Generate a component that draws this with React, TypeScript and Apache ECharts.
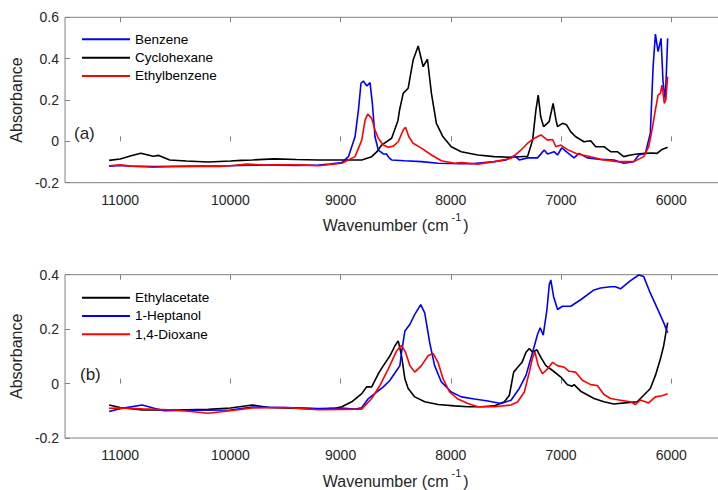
import React, { useEffect, useRef } from "react";
import * as echarts from "echarts";

// ---------- Data (wavenumber in cm^-1, absorbance) ----------
const xTicks = [6000, 7000, 8000, 9000, 10000, 11000];

// (a) Cyclohexane
const cyclohexaneX = [11100, 11000, 10900, 10813, 10700, 10650, 10550, 10400, 10200, 10000, 9900, 9800, 9700, 9600, 9400, 9200, 9000, 8808, 8718, 8670, 8628, 8537, 8480, 8465, 8432, 8387, 8342, 8296, 8251, 8212, 8176, 8131, 8071, 7996, 7906, 7755, 7607, 7454, 7303, 7258, 7228, 7207, 7185, 7158, 7108, 7072, 7045, 7032, 6987, 6950, 6912, 6867, 6792, 6731, 6686, 6611, 6551, 6490, 6431, 6370, 6310, 6235, 6175, 6129, 6084, 6033];
const cyclohexaneY = [-0.092, -0.085, -0.07, -0.058, -0.072, -0.068, -0.09, -0.095, -0.1, -0.095, -0.092, -0.09, -0.087, -0.085, -0.088, -0.09, -0.09, -0.09, -0.074, -0.05, -0.018, 0.015, 0.1, 0.152, 0.232, 0.257, 0.393, 0.461, 0.361, 0.397, 0.232, 0.087, 0.022, -0.026, -0.05, -0.066, -0.074, -0.077, -0.072, 0.006, 0.152, 0.224, 0.12, 0.071, 0.095, 0.184, 0.1, 0.071, 0.087, 0.08, 0.046, 0.022, -0.002, 0.003, -0.026, -0.026, -0.05, -0.05, -0.074, -0.066, -0.061, -0.058, -0.056, -0.058, -0.039, -0.029];

// (a) Benzene
const benzeneX = [11100, 11000, 10900, 10700, 10500, 10300, 10000, 9800, 9600, 9400, 9200, 9100, 8989, 8929, 8869, 8838, 8815, 8793, 8763, 8733, 8712, 8688, 8658, 8612, 8583, 8560, 8537, 8420, 8267, 8116, 7906, 7815, 7605, 7500, 7424, 7379, 7303, 7213, 7153, 7122, 7063, 7032, 6993, 6942, 6882, 6837, 6761, 6641, 6521, 6431, 6340, 6295, 6235, 6190, 6165, 6144, 6120, 6093, 6075, 6054, 6033];
const benzeneY = [-0.12, -0.117, -0.12, -0.122, -0.121, -0.12, -0.118, -0.115, -0.115, -0.116, -0.115, -0.11, -0.103, -0.074, 0.022, 0.152, 0.281, 0.292, 0.268, 0.284, 0.184, 0.022, -0.042, -0.061, -0.061, -0.08, -0.09, -0.094, -0.098, -0.106, -0.108, -0.108, -0.098, -0.09, -0.069, -0.09, -0.08, -0.08, -0.042, -0.061, -0.05, -0.066, -0.031, -0.055, -0.08, -0.058, -0.08, -0.087, -0.09, -0.106, -0.098, -0.066, -0.058, 0.04, 0.361, 0.519, 0.434, 0.498, 0.289, 0.2, 0.498];

// (a) Ethylbenzene
const ethylbenzeneX = [11100, 11000, 10900, 10700, 10500, 10300, 10100, 10000, 9850, 9700, 9500, 9300, 9200, 9100, 8989, 8869, 8808, 8778, 8754, 8718, 8688, 8658, 8612, 8567, 8522, 8477, 8432, 8411, 8381, 8342, 8267, 8176, 8086, 7966, 7906, 7755, 7605, 7454, 7364, 7303, 7243, 7183, 7122, 7077, 7047, 7002, 6942, 6852, 6761, 6641, 6490, 6340, 6250, 6205, 6175, 6144, 6120, 6099, 6085, 6063, 6050, 6033];
const ethylbenzeneY = [-0.118, -0.114, -0.12, -0.125, -0.122, -0.12, -0.122, -0.118, -0.11, -0.115, -0.113, -0.115, -0.118, -0.112, -0.106, -0.074, 0.006, 0.103, 0.132, 0.111, 0.055, 0.015, -0.018, -0.029, -0.023, -0.002, 0.055, 0.068, 0.022, -0.009, -0.033, -0.066, -0.094, -0.106, -0.103, -0.11, -0.098, -0.082, -0.042, -0.009, 0.015, 0.031, 0.006, 0.009, -0.026, -0.018, -0.04, -0.061, -0.071, -0.087, -0.098, -0.098, -0.074, -0.026, 0.055, 0.152, 0.224, 0.232, 0.272, 0.184, 0.2, 0.313];

// (b) Ethylacetate
const ethylacetateX = [11100, 11000, 10800, 10500, 10200, 10000, 9800, 9650, 9500, 9300, 9169, 9049, 8989, 8899, 8808, 8763, 8718, 8658, 8612, 8552, 8507, 8477, 8447, 8417, 8387, 8327, 8237, 8116, 7966, 7845, 7725, 7605, 7514, 7469, 7430, 7393, 7354, 7318, 7288, 7258, 7219, 7183, 7138, 7077, 7002, 6942, 6900, 6882, 6822, 6701, 6611, 6521, 6400, 6310, 6250, 6190, 6144, 6099, 6069, 6033];
const ethylacetateY = [-0.079, -0.088, -0.097, -0.097, -0.095, -0.09, -0.079, -0.088, -0.09, -0.092, -0.094, -0.091, -0.085, -0.067, -0.037, -0.012, -0.012, 0.036, 0.066, 0.102, 0.139, 0.157, 0.102, 0.018, -0.018, -0.049, -0.067, -0.077, -0.082, -0.085, -0.085, -0.082, -0.067, -0.043, 0.042, 0.06, 0.078, 0.115, 0.129, 0.115, 0.124, 0.096, 0.066, 0.048, 0.024, -0.004, -0.01, -0.004, -0.028, -0.055, -0.067, -0.075, -0.07, -0.067, -0.043, -0.018, 0.03, 0.09, 0.139, 0.224];

// (b) 1-Heptanol
const heptanolX = [11100, 11000, 10800, 10700, 10600, 10300, 10000, 9800, 9500, 9200, 9000, 8869, 8808, 8748, 8673, 8612, 8552, 8492, 8462, 8447, 8417, 8372, 8327, 8273, 8237, 8192, 8147, 8086, 7996, 7905, 7785, 7664, 7544, 7454, 7379, 7318, 7258, 7213, 7189, 7162, 7128, 7107, 7093, 7068, 7032, 6987, 6912, 6822, 6701, 6641, 6551, 6506, 6461, 6370, 6295, 6250, 6190, 6129, 6069, 6033];
const heptanolY = [-0.103, -0.092, -0.079, -0.09, -0.1, -0.098, -0.097, -0.086, -0.088, -0.092, -0.09, -0.094, -0.089, -0.055, -0.031, -0.012, 0.012, 0.048, 0.066, 0.115, 0.193, 0.217, 0.254, 0.29, 0.26, 0.151, 0.066, 0.006, -0.031, -0.049, -0.057, -0.064, -0.073, -0.061, -0.018, 0.03, 0.115, 0.181, 0.205, 0.178, 0.272, 0.363, 0.381, 0.32, 0.272, 0.284, 0.284, 0.308, 0.344, 0.351, 0.356, 0.356, 0.348, 0.378, 0.399, 0.393, 0.332, 0.278, 0.224, 0.187];

// (b) 1,4-Dioxane
const dioxaneX = [11100, 11000, 10800, 10500, 10200, 10000, 9800, 9500, 9200, 9000, 8808, 8718, 8643, 8567, 8492, 8447, 8411, 8372, 8327, 8267, 8206, 8161, 8116, 8071, 8011, 7935, 7845, 7755, 7605, 7454, 7393, 7333, 7288, 7258, 7237, 7207, 7168, 7122, 7077, 7032, 6972, 6927, 6867, 6807, 6731, 6671, 6611, 6551, 6461, 6370, 6325, 6280, 6205, 6144, 6084, 6033];
const dioxaneY = [-0.091, -0.09, -0.093, -0.097, -0.109, -0.1, -0.09, -0.088, -0.096, -0.095, -0.094, -0.055, -0.007, 0.054, 0.12, 0.141, 0.115, 0.066, 0.042, 0.066, 0.102, 0.111, 0.078, 0.018, -0.031, -0.057, -0.073, -0.085, -0.085, -0.079, -0.067, -0.031, 0.042, 0.096, 0.115, 0.066, 0.036, 0.054, 0.078, 0.066, 0.06, 0.045, 0.042, 0.012, -0.004, -0.007, -0.04, -0.055, -0.061, -0.067, -0.077, -0.06, -0.071, -0.049, -0.045, -0.037];

const zip = (xs: number[], ys: number[]) => xs.map((x, i) => [x, ys[i]]);

const FONT = "'Liberation Sans', Arial, sans-serif";
const AXIS_GRAY = "#808080";
const TEXT = "#262626";

function xAxes(gridIndex: number) {
  const base = {
    type: "value" as const,
    gridIndex,
    min: 5500,
    max: 11500,
    inverse: true,
    axisLine: { show: false },
    splitLine: { show: false },
  };
  return [
    {
      ...base,
      position: "bottom",
      axisTick: { show: true, inside: true, length: 5, lineStyle: { color: AXIS_GRAY }, customValues: xTicks },
      axisLabel: {
        show: true,
        customValues: xTicks,
        margin: 10,
        fontSize: 14,
        color: TEXT,
        fontFamily: FONT,
        formatter: (v: number) => String(v),
      },
      name: "{n|Wavenumber (cm}{s|-1}{n|)}",
      nameLocation: "middle",
      nameGap: 29,
      nameTextStyle: {
        rich: {
          n: { fontSize: 16, lineHeight: 22, color: TEXT, fontFamily: FONT, verticalAlign: "bottom" },
          s: { fontSize: 11, lineHeight: 12, color: TEXT, fontFamily: FONT, verticalAlign: "top", padding: [0, 2, 0, 3] },
        },
      },
    },
    {
      ...base,
      position: "top",
      axisTick: { show: true, inside: true, length: 5, lineStyle: { color: AXIS_GRAY }, customValues: xTicks },
      axisLabel: { show: false },
    },
  ];
}

function yAxis(gridIndex: number, max: number) {
  return {
    type: "value" as const,
    gridIndex,
    min: -0.2,
    max,
    interval: 0.2,
    axisLine: { show: false },
    splitLine: { show: false },
    axisTick: { show: true, inside: true, length: 5, lineStyle: { color: AXIS_GRAY } },
    axisLabel: { fontSize: 14, color: TEXT, fontFamily: FONT, margin: 6 },
    name: "Absorbance",
    nameLocation: "middle",
    nameGap: 34,
    nameTextStyle: { fontSize: 16, color: TEXT, fontFamily: FONT },
  };
}

function line(name: string, color: string, xi: number, yi: number, data: number[][]) {
  return {
    type: "line",
    name,
    xAxisIndex: xi,
    yAxisIndex: yi,
    data,
    symbol: "none",
    showSymbol: false,
    lineStyle: { color, width: 1.6 },
    itemStyle: { color },
    z: 3,
  };
}

const legendBase = {
  orient: "vertical",
  left: 82,
  padding: 0,
  itemGap: 0,
  icon: "rect",
  itemWidth: 48,
  itemHeight: 2,
  selectedMode: false,
  textStyle: { fontSize: 13.5, lineHeight: 18.3, color: "#000", fontFamily: FONT },
};

export default function App() {
  const ref = useRef<HTMLDivElement>(null);
  useEffect(() => {
    if (!ref.current) return;
    const chart = echarts.init(ref.current, undefined, { renderer: "svg" });
    chart.setOption({
      animation: false,
      backgroundColor: "#fff",
      textStyle: { fontFamily: FONT },
      grid: [
        { left: 62, top: 17.3, width: 664.4, height: 165.4, show: true, borderColor: AXIS_GRAY, borderWidth: 1, backgroundColor: "transparent" },
        { left: 62, top: 274.7, width: 664.4, height: 165.3, show: true, borderColor: AXIS_GRAY, borderWidth: 1, backgroundColor: "transparent" },
      ],
      xAxis: [...xAxes(0), ...xAxes(1)],
      yAxis: [yAxis(0, 0.6), yAxis(1, 0.4)],
      legend: [
        { ...legendBase, top: 30.2, data: ["Benzene", "Cyclohexane", "Ethylbenzene"] },
        { ...legendBase, top: 288.5, data: ["Ethylacetate", "1-Heptanol", "1,4-Dioxane"] },
      ],
      graphic: [
        { type: "text", left: 74, top: 125, style: { text: "(a)", fontSize: 17, fill: TEXT, fontFamily: FONT } },
        { type: "text", left: 80, top: 366, style: { text: "(b)", fontSize: 17, fill: TEXT, fontFamily: FONT } },
      ],
      series: [
        line("Cyclohexane", "#000000", 0, 0, zip(cyclohexaneX, cyclohexaneY)),
        line("Benzene", "#0000ff", 0, 0, zip(benzeneX, benzeneY)),
        line("Ethylbenzene", "#ff0000", 0, 0, zip(ethylbenzeneX, ethylbenzeneY)),
        line("Ethylacetate", "#000000", 2, 1, zip(ethylacetateX, ethylacetateY)),
        line("1-Heptanol", "#0000ff", 2, 1, zip(heptanolX, heptanolY)),
        line("1,4-Dioxane", "#ff0000", 2, 1, zip(dioxaneX, dioxaneY)),
      ],
    });
    return () => chart.dispose();
  }, []);
  return (
    <div style={{ position: "absolute", left: 0, top: 0, width: 718, height: 490, overflow: "hidden", background: "#fff" }}>
      <div ref={ref} style={{ width: 740, height: 490 }} />
    </div>
  );
}
